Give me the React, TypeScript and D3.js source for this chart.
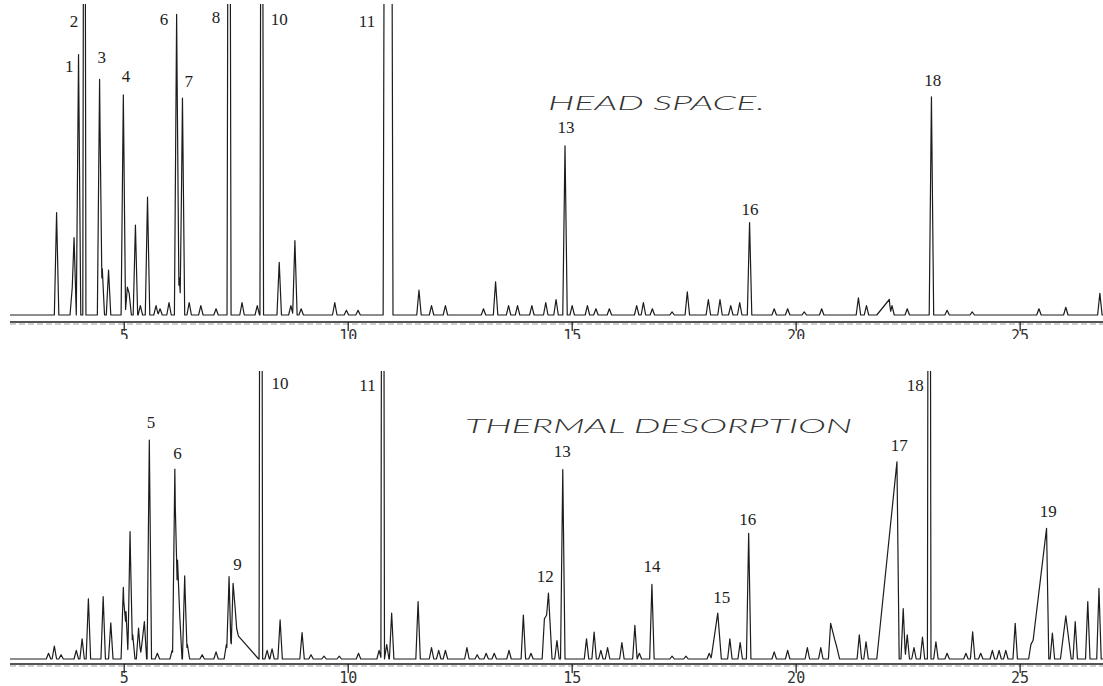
import React, { useEffect, useRef } from "react";
import * as d3 from "d3";

// [retention time (min), height (% of full scale), left half-width, right half-width]
type Peak = [number, number, number?, number?];
type Label = [string, number, number];

const tStart = 2.45;
const tEnd = 26.85;
const timeTicks = [5, 10, 15, 20, 25];
const tickLabels = ["5", "10", "15", "20", "25"];

const headSpacePeaks: Peak[] = [
  [3.49, 33], [3.84, 9], [3.88, 25], [3.98, 84], [4.11, 300, 0.035, 0.035],
  [4.45, 76], [4.51, 15], [4.65, 14.5], [4.98, 71], [5.07, 9], [5.11, 7],
  [5.25, 29], [5.36, 3], [5.52, 38], [5.71, 3], [5.8, 2], [6.0, 4],
  [6.17, 97], [6.23, 12], [6.3, 70], [6.45, 4], [6.71, 3], [7.05, 2],
  [7.34, 300, 0.045, 0.045], [7.63, 4], [7.97, 3], [8.07, 300, 0.04, 0.04],
  [8.46, 17], [8.72, 3], [8.81, 24], [8.95, 2], [9.7, 4], [9.96, 1.5],
  [10.22, 1.5], [10.89, 600, 0.11, 0.11], [11.58, 8], [11.86, 3], [12.17, 3],
  [13.02, 2], [13.29, 10.7], [13.58, 3], [13.78, 3], [14.1, 3], [14.41, 4],
  [14.64, 5], [14.84, 54.6], [15.0, 3], [15.34, 3], [15.53, 2], [15.83, 2],
  [16.44, 3], [16.59, 4], [16.79, 2], [17.23, 1], [17.57, 7.5], [18.04, 5],
  [18.3, 5], [18.54, 3], [18.74, 4], [18.96, 29.8], [19.51, 2], [19.81, 2],
  [20.18, 1], [20.57, 2], [21.39, 5.5], [21.57, 3], [22.08, 5, 0.28, 0.03],
  [22.14, 3], [22.48, 2], [23.02, 70.4], [23.37, 1.5], [23.93, 1],
  [25.42, 2], [26.02, 2.5], [26.78, 7],
];

const headSpaceLabels: Label[] = [
  ["1", 3.77, 78.4], ["2", 3.88, 92.9], ["3", 4.5, 81.3], ["4", 5.04, 75.2],
  ["6", 5.89, 93.5], ["7", 6.44, 73.5], ["8", 7.05, 94.2], ["10", 8.46, 93.5],
  ["11", 10.42, 92.9], ["13", 14.86, 58.7], ["16", 18.97, 32.3], ["18", 23.05, 73.9],
];

const thermalPeaks: Peak[] = [
  [3.31, 2], [3.44, 4.5], [3.59, 1.5], [3.93, 3], [4.06, 7], [4.2, 21],
  [4.53, 21.7], [4.7, 12.6], [4.98, 25], [5.04, 16.5], [5.13, 44.4],
  [5.19, 8.4], [5.32, 10.8], [5.4, 6], [5.45, 13], [5.56, 76.3], [5.74, 2],
  [6.07, 3], [6.13, 66.2], [6.19, 34.5], [6.24, 15], [6.35, 29], [6.41, 5],
  [6.74, 1.5], [7.05, 2.5], [7.28, 5], [7.34, 28.7], [7.43, 26.4, 0.05, 0.08],
  [7.48, 17, 0.05, 0.08], [7.55, 8, 0.05, 0.45], [8.05, 400, 0.04, 0.04],
  [8.19, 3], [8.3, 3.5],
  [8.48, 13.6], [8.97, 9.2], [9.17, 1.5], [9.46, 1], [9.8, 1], [10.23, 2],
  [10.69, 3], [10.77, 400, 0.04, 0.04], [10.86, 5], [10.97, 16], [11.56, 20],
  [11.86, 4], [12.02, 3], [12.17, 3], [12.65, 4], [12.88, 1.5], [13.08, 2],
  [13.26, 2], [13.59, 3], [13.91, 15.3], [14.08, 2], [14.38, 14],
  [14.47, 23, 0.12, 0.08], [14.66, 6.4], [14.79, 66], [15.32, 7], [15.49, 9.4],
  [15.64, 3], [15.79, 4], [16.11, 5.7], [16.4, 11.7], [16.5, 2], [16.78, 26],
  [17.23, 1], [17.54, 1], [18.06, 2], [18.25, 16, 0.15, 0.08], [18.52, 7],
  [18.75, 5.7], [18.94, 43.8], [19.51, 2.5], [19.81, 3], [20.25, 4],
  [20.55, 4], [20.77, 12.4, 0.05, 0.2], [20.91, 4], [21.41, 8.4], [21.56, 6],
  [22.25, 68.7, 0.45, 0.05], [22.39, 17.6], [22.48, 8.4], [22.63, 4],
  [22.82, 7.6], [22.97, 400, 0.04, 0.04], [23.12, 6], [23.37, 2], [23.79, 2],
  [23.94, 9.5], [24.12, 2], [24.38, 3], [24.53, 3], [24.68, 3], [24.89, 12.4],
  [25.24, 5], [25.41, 18.8], [25.59, 45.5, 0.35, 0.05], [25.72, 9],
  [26.02, 15, 0.12, 0.12], [26.23, 13], [26.51, 20], [26.76, 24.6],
];

const thermalLabels: Label[] = [
  ["5", 5.6, 80.5], ["6", 6.19, 69.7], ["9", 7.53, 31.0], ["10", 8.48, 94.1],
  ["11", 10.43, 93.4], ["12", 14.4, 26.8], ["13", 14.78, 70.5], ["14", 16.78, 30.4],
  ["15", 18.34, 19.6], ["16", 18.92, 46.7], ["17", 22.3, 72.6], ["18", 22.66, 93.5],
  ["19", 25.63, 49.6],
];

const W = 0.05;

function tracePoints(peaks: Peak[]): [number, number][] {
  const ts = new Set<number>([tStart, tEnd]);
  peaks.forEach(([t, , wl = W, wr = wl]) => {
    ts.add(t - wl);
    ts.add(t);
    ts.add(t + wr);
  });
  const sorted = Array.from(ts).sort((a, b) => a - b);
  return sorted.map((t) => {
    const v =
      d3.max(peaks, ([pt, h, wl = W, wr = wl]) => {
        if (t < pt) return t > pt - wl ? (h * (t - (pt - wl))) / wl : 0;
        return t < pt + wr ? (h * (pt + wr - t)) / wr : 0;
      }) ?? 0;
    return [t, v];
  });
}

const panels = [
  { id: "hs", peaks: headSpacePeaks, labels: headSpaceLabels, base: 315, top: 5, axisY: 322,
    labelClip: 339, title: "HEAD SPACE.", titleT: 14.46, titleY: 110, titleLen: 217 },
  { id: "td", peaks: thermalPeaks, labels: thermalLabels, base: 659, top: 372, axisY: 664,
    labelClip: 686, title: "THERMAL DESORPTION", titleT: 12.61, titleY: 433, titleLen: 387 },
];

export default function App() {
  const ref = useRef<SVGSVGElement | null>(null);

  useEffect(() => {
    const svg = d3.select(ref.current);
    svg.selectAll("*").remove();

    const x = d3.scaleLinear().domain([tStart, tEnd]).range([10, 1103]);
    const ink = "#1c1c1c";

    panels.forEach((p) => {
      const y = d3.scaleLinear().domain([0, 100]).range([p.base, p.top]);
      const g = svg.append("g");

      g.append("clipPath")
        .attr("id", `clip-${p.id}`)
        .append("rect")
        .attr("x", 0)
        .attr("y", p.top - 1)
        .attr("width", 1103)
        .attr("height", p.axisY - p.top);

      const line = d3
        .line<[number, number]>()
        .x((d) => x(d[0]))
        .y((d) => y(d[1]));

      g.append("path")
        .attr("d", line(tracePoints(p.peaks)))
        .attr("clip-path", `url(#clip-${p.id})`)
        .attr("fill", "none")
        .attr("stroke", ink)
        .attr("stroke-width", 1.2)
        .attr("stroke-linejoin", "round");

      // axis
      g.append("line")
        .attr("x1", 10)
        .attr("x2", 1103)
        .attr("y1", p.axisY)
        .attr("y2", p.axisY)
        .attr("stroke", ink)
        .attr("stroke-width", 1.4);

      g.append("line")
        .attr("x1", 10)
        .attr("x2", 1103)
        .attr("y1", p.axisY + 2)
        .attr("y2", p.axisY + 2)
        .attr("stroke", "#888")
        .attr("stroke-width", 0.8)
        .attr("stroke-dasharray", "6 3");

      g.append("clipPath")
        .attr("id", `tick-${p.id}`)
        .append("rect")
        .attr("x", 0)
        .attr("y", p.axisY)
        .attr("width", 1103)
        .attr("height", p.labelClip - p.axisY);

      const ticks = g.append("g").attr("clip-path", `url(#tick-${p.id})`);
      timeTicks.forEach((t, i) => {
        ticks
          .append("line")
          .attr("x1", x(t))
          .attr("x2", x(t))
          .attr("y1", p.axisY)
          .attr("y2", p.axisY + 9)
          .attr("stroke", ink)
          .attr("stroke-width", 1.2);
        ticks
          .append("text")
          .attr("x", x(t))
          .attr("y", p.axisY + 19)
          .attr("text-anchor", "middle")
          .style("font-family", "'DejaVu Sans Mono', monospace")
          .style("font-size", "15px")
          .attr("fill", "#333")
          .text(tickLabels[i]);
      });

      // peak numbers
      p.labels.forEach(([txt, t, v]) => {
        g.append("text")
          .attr("x", x(t))
          .attr("y", y(v))
          .attr("text-anchor", "middle")
          .style("font-family", "'Liberation Serif', serif")
          .style("font-size", "17px")
          .attr("fill", ink)
          .text(txt);
      });

      g.append("text")
        .attr("x", x(p.titleT))
        .attr("y", p.titleY)
        .attr("textLength", p.titleLen)
        .attr("lengthAdjust", "spacingAndGlyphs")
        .style("font-family", "Lato, Roboto, sans-serif")
        .style("font-style", "italic")
        .style("font-weight", 300)
        .style("font-size", "19px")
        .attr("fill", "#333")
        .text(p.title);
    });
  }, []);

  return (
    <svg
      ref={ref}
      width={1103}
      height={686}
      style={{ position: "absolute", left: 0, top: 0, background: "#fff", display: "block" }}
    />
  );
}
